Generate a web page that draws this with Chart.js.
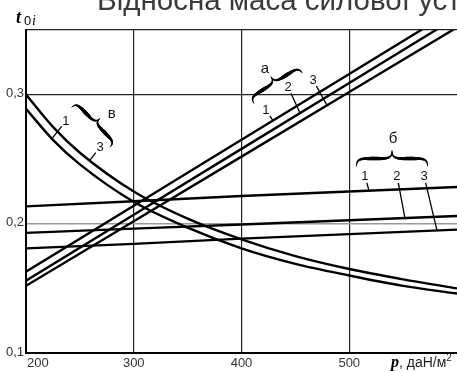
<!DOCTYPE html>
<html>
<head>
<meta charset="utf-8">
<script src="https://cdn.jsdelivr.net/npm/chart.js@4.4.1/dist/chart.umd.min.js"></script>
<style>
  html, body { margin: 0; padding: 0; background: #fff; }
  canvas { display: block; }
</style>
</head>
<body>
<canvas id="c" width="457" height="372"></canvas>
<script>
// Specific load p, даН/м²
const pStraight = [200, 300, 400, 500, 600];
const pCurve = [200, 225, 250, 300, 350, 400, 450, 500, 550, 600];

// Group "а" (rising lines 1, 2, 3)
const a1 = [0.163, 0.214, 0.265, 0.316, 0.367];
const a2 = [0.156, 0.207, 0.258, 0.309, 0.360];
const a3 = [0.152, 0.202, 0.252, 0.302, 0.352];

// Group "б" (flat lines 1, 2, 3)
const b1 = [0.2135, 0.2175, 0.2215, 0.225, 0.2285];
const b2 = [0.193, 0.1963, 0.1995, 0.2028, 0.206];
const b3 = [0.181, 0.1845, 0.1885, 0.192, 0.1955];

// Group "в" (falling curves 1 and 3)
const v1 = [0.289, 0.265, 0.246, 0.217, 0.197, 0.181, 0.169, 0.160, 0.152, 0.146];
const v3 = [0.300, 0.275, 0.255, 0.225, 0.204, 0.188, 0.175, 0.165, 0.157, 0.150];

// Axis ticks
const xTicks = [200, 300, 400, 500, 600];
const xTickLabels = ['200', '300', '400', '500', ''];
const yTicks = [0.1, 0.2, 0.3, 0.35];
const yTickLabels = ['0,1', '0,2', '0,3', ''];

const titleText = 'Відносна маса силової установки';

const seriesMap = {
  a1: [pStraight, a1], a2: [pStraight, a2], a3: [pStraight, a3],
  b1: [pStraight, b1], b2: [pStraight, b2], b3: [pStraight, b3],
  v1: [pCurve, v1], v3: [pCurve, v3]
};

// Group letters, braces and numbered leaders (data units)
const groupLetters = [
  { text: 'а', p: 421.8, t: 0.3198 },
  { text: 'б', p: 540.6, t: 0.2656 },
  { text: 'в', p: 279.5, t: 0.2850 }
];
const braces = [
  { p: 433.9, t: 0.3051, len: 57, depth: 13, angle: -32 },
  { p: 539.7, t: 0.2447, len: 71, depth: 15, angle: 0 },
  { p: 260.3, t: 0.2749, len: 55, depth: 12, angle: 46 }
];
const leaders = [
  { key: 'a1', text: '1', p: 422.7, t: 0.2881, at: 429.2 },
  { key: 'a2', text: '2', p: 443.2, t: 0.3059, at: 454.3 },
  { key: 'a3', text: '3', p: 466.4, t: 0.3113, at: 479.4 },
  { key: 'b1', text: '1', p: 514.6, t: 0.2370, at: 518.3 },
  { key: 'b2', text: '2', p: 544.3, t: 0.2370, at: 551.7 },
  { key: 'b3', text: '3', p: 569.4, t: 0.2370, at: 581.4 },
  { key: 'v1', text: '1', p: 237.1, t: 0.2796, at: 224.1 },
  { key: 'v3', text: '3', p: 268.7, t: 0.2594, at: 259.4 }
];

function points(xs, ys) {
  return xs.map((x, i) => ({ x: x, y: ys[i] }));
}

function valueAt(key, p) {
  const xs = seriesMap[key][0], ys = seriesMap[key][1];
  for (let i = 0; i < xs.length - 1; i++) {
    if (p >= xs[i] && p <= xs[i + 1]) {
      const f = (p - xs[i]) / (xs[i + 1] - xs[i]);
      return ys[i] + f * (ys[i + 1] - ys[i]);
    }
  }
  return ys[ys.length - 1];
}

function lineSet(data, curved) {
  return {
    data: data,
    borderColor: '#000',
    borderWidth: 2.4,
    pointRadius: 0,
    fill: false,
    tension: 0,
    cubicInterpolationMode: curved ? 'monotone' : 'default'
  };
}

// Cubic bezier sampling helper
function bez(p0, c1, c2, p1, n, out) {
  for (let i = 0; i <= n; i++) {
    const t = i / n, u = 1 - t;
    out.push([
      u*u*u*p0[0] + 3*u*u*t*c1[0] + 3*u*t*t*c2[0] + t*t*t*p1[0],
      u*u*u*p0[1] + 3*u*u*t*c1[1] + 3*u*t*t*c2[1] + t*t*t*p1[1]
    ]);
  }
}

// Curly brace along local x, tip pointing to local -y, with swelling stroke
function drawBrace(ctx, cx, cy, L, d, angleDeg) {
  const half = [];
  const h = d / 2;
  bez([-L/2, 0], [-L/2, -h*0.7], [-L/2 + d*0.15, -h], [-L/2 + d*0.7, -h], 12, half);
  bez([-L/2 + d*0.7, -h], [-L/4, -h], [-L/4, -h], [-d*0.7, -h], 12, half);
  bez([-d*0.7, -h], [-d*0.15, -h], [0, -h*1.3], [0, -d], 12, half);
  ctx.save();
  ctx.translate(cx, cy);
  ctx.rotate(angleDeg * Math.PI / 180);
  ctx.strokeStyle = '#000';
  ctx.lineCap = 'round';
  [1, -1].forEach(sx => {
    const n = half.length;
    for (let i = 0; i < n - 1; i++) {
      const f = (i + 0.5) / (n - 1);
      ctx.lineWidth = 0.8 + 2.8 * Math.pow(Math.sin(Math.PI * f), 1.5);
      ctx.beginPath();
      ctx.moveTo(sx * half[i][0], half[i][1]);
      ctx.lineTo(sx * half[i + 1][0], half[i + 1][1]);
      ctx.stroke();
    }
  });
  ctx.restore();
}

const decor = {
  id: 'decor',
  afterDatasetsDraw(chart) {
    const ctx = chart.ctx;
    const xs = chart.scales.x, ys = chart.scales.y;
    const X = v => xs.getPixelForValue(v);
    const Y = v => ys.getPixelForValue(v);

    ctx.save();
    // Title (top part runs off the canvas)
    ctx.fillStyle = '#3a3a3a';
    ctx.font = '29.5px "Liberation Sans", Arial, sans-serif';
    ctx.textAlign = 'left';
    ctx.textBaseline = 'alphabetic';
    ctx.fillText(titleText, 97, 10);

    // Y tick labels
    ctx.fillStyle = '#333';
    ctx.font = '13px "Liberation Sans", Arial, sans-serif';
    ctx.textAlign = 'right';
    ctx.textBaseline = 'middle';
    yTicks.forEach((v, i) => {
      if (yTickLabels[i]) ctx.fillText(yTickLabels[i], chart.chartArea.left - 2, Y(v) - 1);
    });
    // X tick labels
    ctx.textBaseline = 'top';
    xTicks.forEach((v, i) => {
      if (!xTickLabels[i]) return;
      ctx.textAlign = i === 0 ? 'left' : 'center';
      ctx.fillText(xTickLabels[i], i === 0 ? X(v) + 1 : X(v), chart.chartArea.bottom + 4);
    });

    // Y axis title: t with subscript 0i
    ctx.fillStyle = '#000';
    ctx.textAlign = 'left';
    ctx.textBaseline = 'alphabetic';
    ctx.font = 'italic bold 18px "Liberation Serif", "Times New Roman", serif';
    ctx.fillText('t', 16, 23);
    ctx.font = '13px "Liberation Sans", Arial, sans-serif';
    ctx.fillText('0', 24, 25);
    ctx.font = 'italic 14px "Liberation Serif", "Times New Roman", serif';
    ctx.fillText('i', 32, 25);

    // X axis title
    let xt = 391;
    ctx.font = 'italic bold 16px "Liberation Serif", "Times New Roman", serif';
    ctx.fillText('p', xt, 367);
    xt += ctx.measureText('p').width;
    ctx.font = '14px "Liberation Sans", Arial, sans-serif';
    ctx.fillStyle = '#222';
    ctx.fillText(', даН/м', xt, 367);
    xt += ctx.measureText(', даН/м').width;
    ctx.font = '10px "Liberation Sans", Arial, sans-serif';
    ctx.fillText('2', xt, 361);

    // Braces
    braces.forEach(b => drawBrace(ctx, X(b.p), Y(b.t), b.len, b.depth, b.angle));

    // Group letters
    ctx.fillStyle = '#111';
    ctx.font = '15px "Liberation Sans", Arial, sans-serif';
    ctx.textAlign = 'center';
    ctx.textBaseline = 'middle';
    groupLetters.forEach(g => ctx.fillText(g.text, X(g.p), Y(g.t)));

    // Numbered leaders
    ctx.font = '13px "Liberation Sans", Arial, sans-serif';
    ctx.strokeStyle = '#000';
    ctx.lineWidth = 1.3;
    leaders.forEach(l => {
      const lx = X(l.p), ly = Y(l.t);
      const ex = X(l.at), ey = Y(valueAt(l.key, l.at));
      const dx = ex - lx, dy = ey - ly, dl = Math.hypot(dx, dy);
      ctx.fillText(l.text, lx, ly);
      ctx.beginPath();
      ctx.moveTo(lx + dx / dl * 7, ly + dy / dl * 7);
      ctx.lineTo(ex, ey);
      ctx.stroke();
    });
    ctx.restore();
  }
};

new Chart(document.getElementById('c'), {
  type: 'line',
  data: {
    datasets: [
      lineSet(points(pStraight, a1)),
      lineSet(points(pStraight, a2)),
      lineSet(points(pStraight, a3)),
      lineSet(points(pStraight, b1)),
      lineSet(points(pStraight, b2)),
      lineSet(points(pStraight, b3)),
      lineSet(points(pCurve, v1), true),
      lineSet(points(pCurve, v3), true)
    ]
  },
  options: {
    responsive: false,
    animation: false,
    devicePixelRatio: 1,
    layout: { padding: { left: 26, right: 0, top: 30, bottom: 19 } },
    plugins: { legend: { display: false }, tooltip: { enabled: false }, title: { display: false } },
    scales: {
      x: {
        type: 'linear',
        min: 200, max: 600,
        afterBuildTicks: s => { s.ticks = xTicks.map(v => ({ value: v })); },
        ticks: { display: false },
        grid: {
          drawTicks: false,
          color: c => (c.tick && c.tick.value === 600) ? 'rgba(0,0,0,0)' : '#222',
          lineWidth: 1.2
        },
        border: { display: true, color: '#000', width: 2 }
      },
      y: {
        type: 'linear',
        min: 0.1, max: 0.35,
        afterBuildTicks: s => { s.ticks = yTicks.map(v => ({ value: v })); },
        ticks: { display: false },
        grid: {
          drawTicks: false,
          color: c => (c.tick && c.tick.value === 0.2) ? '#9a9a9a' : '#222',
          lineWidth: c => (c.tick && c.tick.value === 0.2) ? 1.6 : 1.2
        },
        border: { display: true, color: '#000', width: 2 }
      }
    }
  },
  plugins: [decor]
});
</script>
</body>
</html>
